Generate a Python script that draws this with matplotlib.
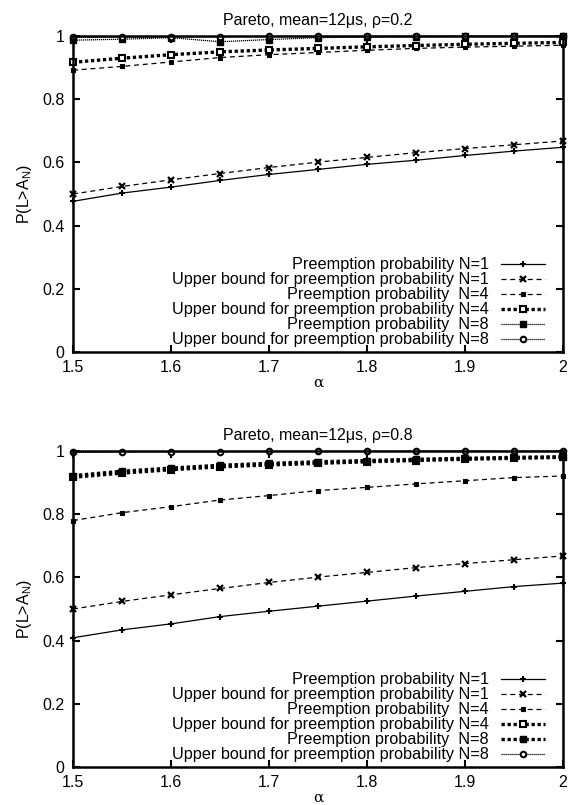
import numpy as np
import matplotlib
matplotlib.use('Agg')
import matplotlib.pyplot as plt
from matplotlib.ticker import FormatStrFormatter

plt.rcParams['font.family'] = ['Liberation Sans', 'DejaVu Sans']
plt.rcParams['mathtext.fontset'] = 'custom'
plt.rcParams['mathtext.rm'] = 'Liberation Sans'
plt.rcParams['mathtext.it'] = 'Liberation Sans'

alpha = [1.5, 1.55, 1.6, 1.65, 1.7, 1.75, 1.8, 1.85, 1.9, 1.95, 2.0]

labels = ['Preemption probability N=1',
          'Upper bound for preemption probability N=1',
          'Preemption probability  N=4',
          'Upper bound for preemption probability N=4',
          'Preemption probability  N=8',
          'Upper bound for preemption probability N=8']

# rho = 0.2
p1_r02 = [0.477, 0.503, 0.522, 0.543, 0.562, 0.578, 0.594, 0.607, 0.622, 0.636, 0.648]
ub1_r02 = [0.500, 0.524, 0.545, 0.565, 0.584, 0.601, 0.616, 0.631, 0.644, 0.656, 0.668]
p4_r02 = [0.892, 0.904, 0.918, 0.932, 0.941, 0.948, 0.955, 0.961, 0.965, 0.968, 0.971]
ub4_r02 = [0.917, 0.930, 0.941, 0.950, 0.956, 0.961, 0.966, 0.970, 0.974, 0.977, 0.980]
p8_r02 = [0.987, 0.990, 0.995, 0.982, 0.989, 0.995, 0.997, 0.998, 0.999, 0.999, 1.0]
ub8_r02 = [0.996, 0.997, 0.998, 0.998, 0.999, 0.999, 0.999, 1.0, 1.0, 1.0, 1.0]

# rho = 0.8
p1_r08 = [0.409, 0.434, 0.453, 0.476, 0.493, 0.509, 0.525, 0.541, 0.556, 0.571, 0.582]
ub1_r08 = [0.500, 0.524, 0.545, 0.565, 0.584, 0.601, 0.616, 0.631, 0.644, 0.656, 0.668]
p4_r08 = [0.780, 0.805, 0.824, 0.845, 0.859, 0.875, 0.885, 0.896, 0.906, 0.916, 0.921]
ub4_r08 = [0.917, 0.930, 0.941, 0.950, 0.956, 0.961, 0.966, 0.970, 0.974, 0.977, 0.980]
p8_r08 = [0.922, 0.936, 0.946, 0.955, 0.961, 0.966, 0.970, 0.974, 0.977, 0.980, 0.982]
ub8_r08 = [0.996, 0.997, 0.998, 0.998, 0.999, 0.999, 0.999, 1.0, 1.0, 1.0, 1.0]

solid = dict(ls='-', lw=0.9, marker='+', ms=5, mew=1.5)
dash_x = dict(ls=(0, (4, 3)), lw=0.9, marker='x', ms=4.5, mew=1.6)
dash_s = dict(ls=(0, (4, 3)), lw=0.9, marker='s', ms=3, mew=0.8)
thick_open = dict(ls=(0, (1, 0.8)), lw=2.4, marker='s', ms=4.5, mew=1.5, mfc='white')
thick_fill = dict(ls=(0, (1, 0.8)), lw=2.4, marker='s', ms=4.5, mew=1)
thin_fill = dict(ls=(0, (1, 0.6)), lw=0.9, marker='s', ms=4.5, mew=1)
thin_circ = dict(ls=(0, (1, 0.6)), lw=0.9, marker='o', ms=4, mew=1.5, mfc='white')

panels = [
    ('Pareto, mean=12\u03bcs, \u03c1=0.2',
     [p1_r02, ub1_r02, p4_r02, ub4_r02, p8_r02, ub8_r02],
     [solid, dash_x, dash_s, thick_open, thin_fill, thin_circ],
     0.5627),
    ('Pareto, mean=12\u03bcs, \u03c1=0.8',
     [p1_r08, ub1_r08, p4_r08, ub4_r08, p8_r08, ub8_r08],
     [solid, dash_x, dash_s, thick_open, thick_fill, thin_circ],
     0.0472),
]

fig = plt.figure(figsize=(5.68, 8.05), dpi=100)

for title, series, styles, bottom in panels:
    ax = fig.add_axes([0.1285, bottom, 0.8627, 0.3925])
    for ys, st, lab in zip(series, styles, labels):
        ax.plot(alpha, ys, color='black', label=lab, clip_on=False, **st)
    ax.set_xlim(1.5, 2.0)
    ax.set_ylim(0, 1)
    ax.set_xticks(np.arange(1.5, 2.01, 0.1))
    ax.set_yticks(np.arange(0, 1.01, 0.2))
    ax.xaxis.set_major_formatter(FormatStrFormatter('%g'))
    ax.yaxis.set_major_formatter(FormatStrFormatter('%g'))
    ax.tick_params(axis='both', direction='in', length=5, width=1.5,
                   top=True, right=True, labelsize=11.5, pad=6)
    for sp in ax.spines.values():
        sp.set_linewidth(1.8)
    ax.set_title(title, fontsize=11.5, pad=8)
    ax.set_xlabel('\u03b1', fontsize=11, family='DejaVu Serif', labelpad=0)
    ax.set_ylabel(r'P(L>A$_\mathrm{N}$)', fontsize=11.5, labelpad=6)
    ax.legend(loc='lower right', bbox_to_anchor=(0.963, 0.015), frameon=False,
              markerfirst=False, numpoints=1, fontsize=11.7, handlelength=2.7,
              handletextpad=0.75, labelspacing=0.0, borderpad=0,
              borderaxespad=0)

plt.savefig('out.png', dpi=100)
